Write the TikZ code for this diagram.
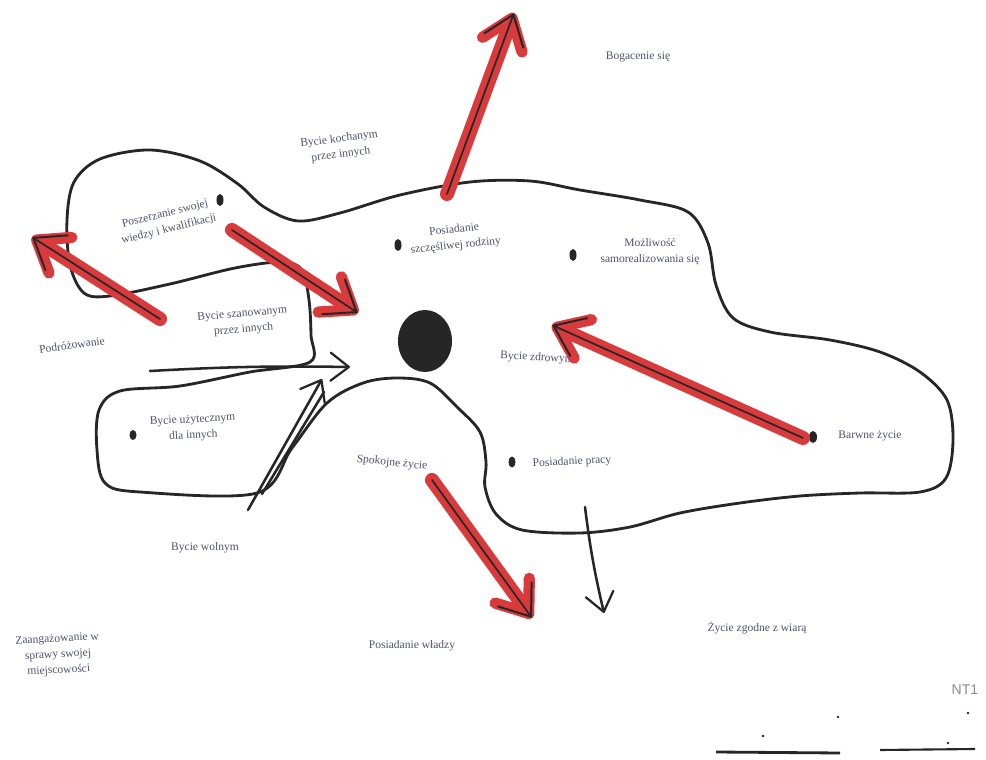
\documentclass[tikz,border=0pt]{standalone}
\usepackage{fontspec}
\setmainfont{Liberation Serif}
\setsansfont{Liberation Sans}
\usepackage{tikz}
\usepackage{xcolor}
\usetikzlibrary{arrows.meta, calc}
\definecolor{SketchInk}{HTML}{262626}
\definecolor{SketchRed}{HTML}{D93B3D}
\definecolor{PrintInk}{HTML}{50516C}
\definecolor{PencilGray}{HTML}{8C8C8C}

\begin{document}
\begin{tikzpicture}[
    x=0.025cm, y=-0.025cm,
    font=\fontsize{8.2}{11.2}\selectfont,
    wish/.style={
      text=PrintInk,
      align=center,
      inner sep=1pt,
    },
    rim/.style={
      draw=SketchInk,
      line width=2pt,
      line join=round,
    },
    inkpull/.style={
      draw=SketchInk,
      line width=1.8pt,
      line cap=round,
      -{Straight Barb[length=13pt, width=20pt, line width=1.6pt, round]},
    },
    redpull/.style={
      draw=SketchRed,
      line width=10pt,
      line cap=round,
      -{Straight Barb[length=20pt, width=30pt, line width=8pt, round]},
      postaction={
        draw=SketchInk,
        line width=1.2pt,
        -{Straight Barb[length=20pt, width=30pt, line width=1.4pt]},
      },
    },
  ]
    \fill[white] (0,0) rectangle (986,760);
    \useasboundingbox (0,0) rectangle (986,760);

    \draw[rim] plot[smooth cycle, tension=0.55] coordinates {
      (310,362) (250,372) (180,386) (120,391) (99,410) (97,450)
      (105,483) (140,492) (257,493) (292,448) (327,403) (363,383)
      (397,378) (430,383) (457,407) (480,432) (486,462) (485,487)
      (496,514) (522,530) (580,533) (630,527) (680,513) (740,503)
      (800,496) (860,493) (920,492) (946,478) (953,440) (947,400)
      (920,372) (880,352) (830,340) (770,332) (733,318) (716,285)
      (708,243) (688,212) (640,200) (580,190) (530,181) (470,182)
      (400,195) (340,213) (298,221) (264,207) (238,184) (200,161)
      (150,150) (100,159) (74,182) (67,220) (70,265) (84,293)
      (110,296) (170,284) (235,268) (282,262) (302,270) (309,300)
      (311,335)
    };

    \fill[SketchInk] (425,341) ellipse [x radius=27, y radius=31];

    \foreach \px/\py/\rx/\ry in {
      220/200/3.5/6, 398/245/3.5/6, 573/255/3.5/6,
      133/435/3.5/5, 512/462/3.5/5.5, 813/437/4/6} {
      \fill[SketchInk] (\px,\py) ellipse [x radius=\rx, y radius=\ry];
    }

    \node[wish] (bogacenie) at (638,57) {Bogacenie się};
    \node[wish, rotate=7] (kochanym) at (340,147) {Bycie kochanym\\przez innych};
    \node[wish, rotate=14] (poszerzanie) at (167,222) {Poszerzanie swojej\\wiedzy i kwalifikacji};
    \node[wish, rotate=6] (rodzina) at (455,238) {Posiadanie\\szczęśliwej rodziny};
    \node[wish] (samorealizacja) at (650,252) {Możliwość\\samorealizowania się};
    \node[wish, rotate=5] (szanowanym) at (243,322) {Bycie szanowanym\\przez innych};
    \node[wish, rotate=8] (podroze) at (72,345) {Podróżowanie};
    \node[wish, rotate=-3] (zdrowym) at (537,358) {Bycie zdrowym};
    \node[wish, rotate=3] (uzytecznym) at (193,428) {Bycie użytecznym\\dla innych};
    \node[wish, rotate=-6] (spokojne) at (392,463) {Spokojne życie};
    \node[wish, rotate=3] (praca) at (572,462) {Posiadanie pracy};
    \node[wish] (barwne) at (870,436) {Barwne życie};
    \node[wish] (wolnym) at (205,548) {Bycie wolnym};
    \node[wish, rotate=3] (zaangazowanie) at (58,655) {Zaangażowanie w\\sprawy swojej\\miejscowości};
    \node[wish] (wladza) at (412,646) {Posiadanie władzy};
    \node[wish] (wiara) at (757,628) {Życie zgodne z wiarą};
    \node[text=PencilGray, font=\sffamily\fontsize{10}{12}\selectfont] (sygnatura) at (965,690) {NT1};

    \coordinate (rodzinaTail) at (447,194);
    \coordinate (rodzinaTip) at (514,13);
    \coordinate (wiedzaTail) at (232,230);
    \coordinate (wiedzaTip) at (358,313);
    \coordinate (szacunekTail) at (160,319);
    \coordinate (szacunekTip) at (32,237);
    \coordinate (barwneTail) at (803,438);
    \coordinate (barwneTip) at (552,325);
    \coordinate (spokojTail) at (432,480);
    \coordinate (spokojTip) at (532,618);

    \draw[redpull] (rodzinaTail) -- (rodzinaTip);
    \draw[redpull] (wiedzaTail) -- (wiedzaTip);
    \draw[redpull] (szacunekTail) -- (szacunekTip);
    \draw[redpull] (barwneTail) -- (barwneTip);
    \draw[redpull] (spokojTail) -- (spokojTip);

    \coordinate (podrozTail) at (150,371);
    \coordinate (podrozTip) at (350,367);
    \coordinate (wolnyTail) at (248,510);
    \coordinate (wolnyTip) at (322,379);
    \coordinate (wolnyBack) at (262,494);
    \coordinate (wolnyTurn) at (324,392);
    \coordinate (pracaTail) at (585,507);
    \coordinate (pracaTip) at (604,613);

    \draw[inkpull] (podrozTail) to[bend left=2] (podrozTip);
    \draw[inkpull] (wolnyTail) -- (wolnyTip);
    \draw[SketchInk, line width=1.8pt, line cap=round] (wolnyBack) -- (wolnyTurn);
    \draw[inkpull] (pracaTail) to[bend right=3] (pracaTip);

    \coordinate (kreskaA) at (716,752);
    \coordinate (kreskaB) at (840,753);
    \coordinate (kreskaC) at (880,750);
    \coordinate (kreskaD) at (975,749);
    \draw[SketchInk, line width=2pt] (kreskaA) -- (kreskaB);
    \draw[SketchInk, line width=1.5pt] (kreskaC) -- (kreskaD);
    \foreach \px/\py in {763/736, 838/717, 948/743, 968/713} {
      \fill[SketchInk] (\px,\py) circle [radius=1.3];
    }
\end{tikzpicture}
\end{document}
